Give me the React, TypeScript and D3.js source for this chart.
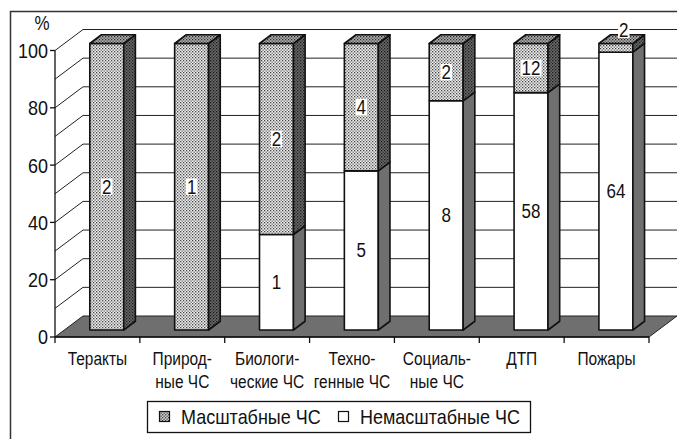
import React from "react";
import * as d3 from "d3";

const categories: string[][] = [
  ["Теракты"],
  ["Природ-", "ные ЧС"],
  ["Биологи-", "ческие ЧС"],
  ["Техно-", "генные ЧС"],
  ["Социаль-", "ные ЧС"],
  ["ДТП"],
  ["Пожары"],
];
const smallCounts = [0, 0, 1, 5, 8, 58, 64]; // Немасштабные ЧС
const largeCounts = [2, 1, 2, 4, 2, 12, 2]; // Масштабные ЧС
const yTickValues = [0, 20, 40, 60, 80, 100];
const gridValues = [10, 20, 30, 40, 50, 60, 70, 80, 90, 100];
const legendLabels = ["Масштабные ЧС", "Немасштабные ЧС"];

const W = 677;
const H = 439;
const DX = 28; // depth offset of back wall
const DY = -21;
const F1 = 1 / 3; // bar front depth fraction
const F2 = 0.75; // bar back depth fraction
const FONT = "'Liberation Sans', Arial, sans-serif";
const SY = 1.15; // vertical stretch of the glyphs

function T(props: {
  x: number;
  y: number;
  size: number;
  anchor?: string;
  baseline?: string;
  children: React.ReactNode;
}) {
  return (
    <g transform={`translate(${props.x},${props.y}) scale(1,${SY})`}>
      <text
        x={0}
        y={0}
        textAnchor={props.anchor || "start"}
        dominantBaseline={props.baseline || "auto"}
        fontSize={props.size}
        fontFamily={FONT}
        fill="#111"
      >
        {props.children}
      </text>
    </g>
  );
}

export default function App() {
  const keys = categories.map((_, i) => String(i));
  const x = d3
    .scaleBand<string>()
    .domain(keys)
    .range([55, 649])
    .paddingInner(0.6)
    .paddingOuter(0.3);
  const step = x.step();
  const y = d3.scaleLinear().domain([0, 100]).range([337, 50.5]);
  const y0 = y(0);
  const xLeft = x.range()[0];
  const xRight = x.range()[1];

  const fdx = F1 * DX;
  const fdy = F1 * DY;
  const bdx = (F2 - F1) * DX;
  const bdy = (F2 - F1) * DY;
  const w = x.bandwidth();

  const pts = (a: number[][]) => a.map((p) => p.join(",")).join(" ");

  const bars = categories.map((_, i) => {
    const total = smallCounts[i] + largeCounts[i];
    const pSmall = (smallCounts[i] / total) * 100;
    const segs = [
      { v0: 0, v1: pSmall, count: smallCounts[i], kind: "small" },
      { v0: pSmall, v1: 100, count: largeCounts[i], kind: "large" },
    ].filter((s) => s.count > 0);
    const x0 = (x(keys[i]) as number) + fdx;
    return { i, x0, segs };
  });

  const strokeC = "#111";

  const label = (text: string, cx: number, cy: number, size: number, key: string) => {
    const tw = text.length * size * 0.556;
    const th = size * 0.84 * SY;
    return (
      <g key={key}>
        <rect x={cx - tw / 2 - 1} y={cy - th / 2} width={tw + 2} height={th} fill="#fff" />
        <T x={cx} y={cy} size={size} anchor="middle" baseline="central">
          {text}
        </T>
      </g>
    );
  };

  return (
    <svg
      width={W}
      height={H}
      viewBox={`0 0 ${W} ${H}`}
      style={{ position: "absolute", left: 0, top: 0, background: "#fff" }}
    >
      <defs>
        <pattern id="dotFront" width="3" height="3" patternUnits="userSpaceOnUse">
          <rect width="3" height="3" fill="#eeeeee" />
          <rect x="0" y="0" width="1.3" height="1.3" fill="#444" />
          <rect x="1.5" y="1.5" width="1.3" height="1.3" fill="#666" />
        </pattern>
        <pattern id="dotSide" width="3" height="3" patternUnits="userSpaceOnUse">
          <rect width="3" height="3" fill="#6a6a6a" />
          <rect x="0" y="0" width="1.3" height="1.3" fill="#1a1a1a" />
          <rect x="1.5" y="1.5" width="1.3" height="1.3" fill="#2a2a2a" />
        </pattern>
        <pattern id="dotTop" width="3" height="3" patternUnits="userSpaceOnUse">
          <rect width="3" height="3" fill="#b0b0b0" />
          <rect x="0" y="0" width="1.3" height="1.3" fill="#2a2a2a" />
          <rect x="1.5" y="1.5" width="1.3" height="1.3" fill="#444" />
        </pattern>
        <pattern id="dotLegend" width="3" height="3" patternUnits="userSpaceOnUse">
          <rect width="3" height="3" fill="#d0d0d0" />
          <rect x="0" y="0" width="1.3" height="1.3" fill="#444" />
          <rect x="1.5" y="1.5" width="1.3" height="1.3" fill="#444" />
        </pattern>
      </defs>

      {/* outer frame */}
      <rect x={10.5} y={11.5} width={W + 20} height={H + 20} fill="none" stroke="#333" strokeWidth={1.5} />

      {/* floor */}
      <polygon
        points={pts([
          [xLeft, y0],
          [xRight, y0],
          [xRight + DX, y0 + DY],
          [xLeft + DX, y0 + DY],
        ])}
        fill="#6f6f6f"
        stroke="#222"
        strokeWidth={1}
      />

      {/* left wall diagonals and back wall gridlines */}
      {gridValues.map((v) => (
        <g key={"g" + v}>
          <line x1={xLeft} y1={y(v)} x2={xLeft + DX} y2={y(v) + DY} stroke="#222" strokeWidth={1} />
          <line x1={xLeft + DX} y1={y(v) + DY} x2={xRight + DX} y2={y(v) + DY} stroke="#222" strokeWidth={1} />
        </g>
      ))}

      {/* y axis */}
      <line x1={xLeft} y1={y(0)} x2={xLeft} y2={y(100)} stroke="#111" strokeWidth={1.3} />
      {yTickValues.map((v) => (
        <g key={"t" + v}>
          <line x1={xLeft - 5} y1={y(v)} x2={xLeft} y2={y(v)} stroke="#111" strokeWidth={1.3} />
          <T x={xLeft - 7} y={y(v)} size={18} anchor="end" baseline="central">
            {v}
          </T>
        </g>
      ))}
      <T x={42} y={23} size={17} anchor="middle" baseline="central">
        %
      </T>

      {/* x axis */}
      <line x1={xLeft} y1={y0} x2={xRight} y2={y0} stroke="#111" strokeWidth={1.3} />
      {d3.range(categories.length + 1).map((k) => (
        <line
          key={"xt" + k}
          x1={xLeft + k * step}
          y1={y0}
          x2={xLeft + k * step}
          y2={y0 + 6}
          stroke="#111"
          strokeWidth={1.3}
        />
      ))}
      {categories.map((lines, i) =>
        lines.map((ln, j) => (
          <T key={"c" + i + "_" + j} x={xLeft + (i + 0.5) * step} y={365 + j * 23} size={15.5} anchor="middle">
            {ln}
          </T>
        ))
      )}

      {/* bars */}
      {bars.map((b) => (
        <g key={"b" + b.i}>
          {b.segs.map((s, si) => {
            const yb = y(s.v0) + fdy;
            const yt = y(s.v1) + fdy;
            const isTop = si === b.segs.length - 1;
            const large = s.kind === "large";
            const x0 = b.x0;
            return (
              <g key={si}>
                <rect
                  x={x0}
                  y={yt}
                  width={w}
                  height={yb - yt}
                  fill={large ? "url(#dotFront)" : "#fff"}
                  stroke={strokeC}
                  strokeWidth={1.6}
                  strokeLinejoin="round"
                />
                <polygon
                  points={pts([
                    [x0 + w, yt],
                    [x0 + w + bdx, yt + bdy],
                    [x0 + w + bdx, yb + bdy],
                    [x0 + w, yb],
                  ])}
                  fill={large ? "url(#dotSide)" : "#6f6f6f"}
                  stroke={strokeC}
                  strokeWidth={1.6}
                  strokeLinejoin="round"
                />
                {isTop && (
                  <polygon
                    points={pts([
                      [x0, yt],
                      [x0 + bdx, yt + bdy],
                      [x0 + w + bdx, yt + bdy],
                      [x0 + w, yt],
                    ])}
                    fill={large ? "url(#dotTop)" : "#fff"}
                    stroke={strokeC}
                    strokeWidth={1.6}
                    strokeLinejoin="round"
                  />
                )}
              </g>
            );
          })}
          {b.segs.map((s, si) => {
            const yb = y(s.v0) + fdy;
            const yt = y(s.v1) + fdy;
            const small = yb - yt < 20;
            const cx = small ? b.x0 + w / 2 + bdx / 2 + 2 : b.x0 + w / 2;
            const cy = small ? yt + bdy - 5 : (yb + yt) / 2;
            return label(String(s.count), cx, cy, 17, "l" + si);
          })}
        </g>
      ))}

      {/* legend */}
      <rect x={147.5} y={401.5} width={383} height={31} fill="#fff" stroke="#111" strokeWidth={1.3} />
      <rect x={159.5} y={411.5} width={10} height={10} fill="url(#dotLegend)" stroke="#111" strokeWidth={1.2} />
      <T x={181} y={417} size={18} baseline="central">
        {legendLabels[0]}
      </T>
      <rect x={338.5} y={411.5} width={10} height={10} fill="#fff" stroke="#111" strokeWidth={1.2} />
      <T x={360} y={417} size={18} baseline="central">
        {legendLabels[1]}
      </T>
    </svg>
  );
}
